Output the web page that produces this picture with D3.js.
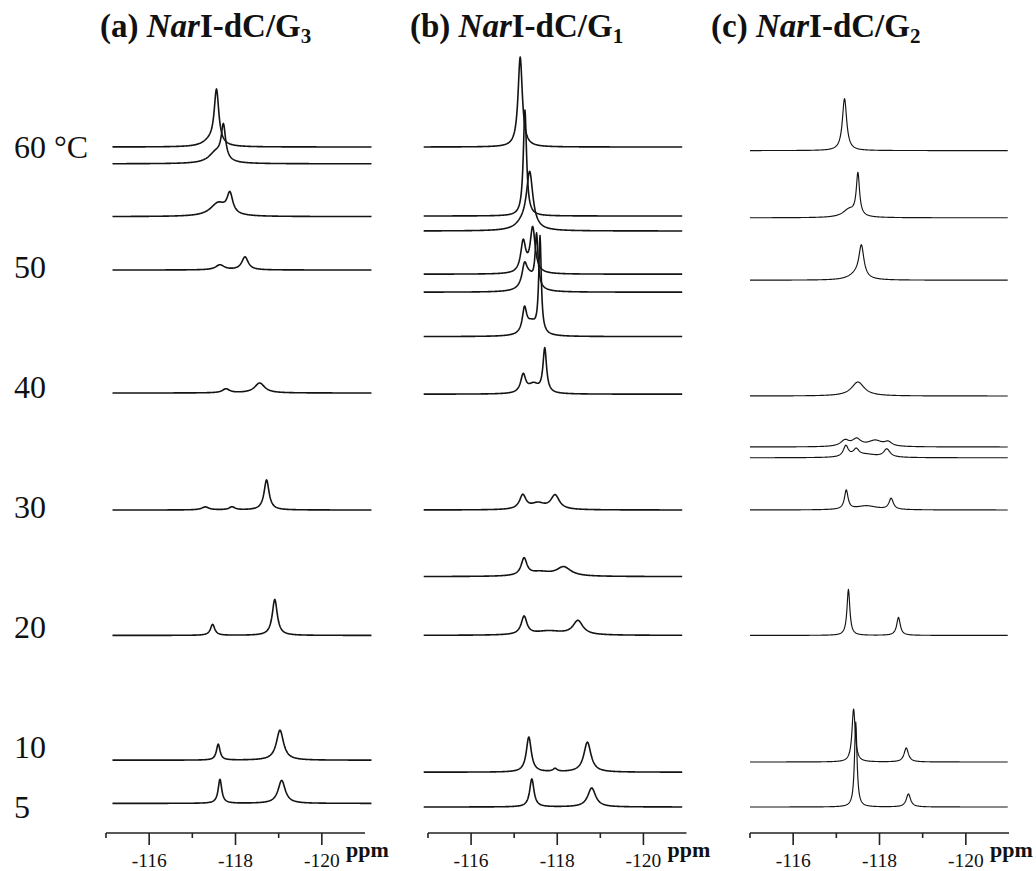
<!DOCTYPE html>
<html>
<head>
<meta charset="utf-8">
<script src="https://cdn.jsdelivr.net/npm/d3@7"></script>
<style>
  html, body { margin: 0; padding: 0; background: #fff; }
  svg { display: block; }
  text { font-family: "Liberation Serif", "Times New Roman", serif; fill: #111; }
</style>
</head>
<body>
<svg id="chart" width="1036" height="871"></svg>
<script>
// ---- data --------------------------------------------------------------
const panelLetters = ["(a)", "(b)", "(c)"];
const panelStrands = ["G", "G", "G"];
const panelSubscripts = ["3", "1", "2"];

const tempLabels = [60, 50, 40, 30, 20, 10, 5];
const majorTicks = [-116, -118, -120];
const minorTicks = [-115, -117, -119];

// recording temperature (°C) of each stacked spectrum, top to bottom
const tempsA = [60, 58.6, 54.2, 49.75, 39.5, 29.75, 19.3, 8.9, 5.3];
const tempsB = [60, 54.25, 53.0, 49.4, 47.9, 44.2, 39.4, 29.75, 24.2, 19.3, 7.9, 5.0];
const tempsC = [59.7, 54.1, 48.9, 39.25, 35.0, 34.1, 29.75, 19.3, 8.75, 5.0];

// peaks per spectrum: [shift (ppm), height, half width at half height (ppm)]
const peaksA = [
  [[-117.56, 55, 0.065], [-117.4, 5, 0.2]],
  [[-117.72, 34, 0.06], [-117.55, 11, 0.2]],
  [[-117.87, 20, 0.08], [-117.6, 13, 0.22]],
  [[-117.64, 5, 0.12], [-118.22, 13, 0.09]],
  [[-117.78, 4, 0.1], [-118.56, 10, 0.14]],
  [[-117.3, 3, 0.1], [-117.92, 3, 0.08], [-118.72, 30, 0.07]],
  [[-117.47, 11, 0.06], [-118.91, 36, 0.07]],
  [[-117.6, 16, 0.05], [-119.03, 30, 0.1]],
  [[-117.64, 24, 0.05], [-119.07, 23, 0.1]]
];
const peaksB = [
  [[-117.14, 90, 0.06]],
  [[-117.25, 106, 0.045]],
  [[-117.36, 56, 0.09], [-117.2, 6, 0.2]],
  [[-117.21, 31, 0.07], [-117.43, 45, 0.07]],
  [[-117.24, 20, 0.07], [-117.52, 52, 0.04], [-117.35, 14, 0.15]],
  [[-117.24, 24, 0.06], [-117.6, 96, 0.035], [-117.4, 12, 0.15]],
  [[-117.21, 18, 0.07], [-117.71, 44, 0.05], [-117.45, 9, 0.15]],
  [[-117.2, 14, 0.09], [-117.95, 14, 0.12], [-117.55, 6, 0.2]],
  [[-117.23, 17, 0.08], [-118.15, 9, 0.2], [-117.6, 4, 0.3]],
  [[-117.23, 18, 0.08], [-118.48, 14, 0.14], [-117.8, 4, 0.4]],
  [[-117.34, 35, 0.07], [-118.7, 30, 0.1], [-117.95, 3, 0.06]],
  [[-117.41, 28, 0.06], [-118.8, 19, 0.11]]
];
const peaksC = [
  [[-117.19, 52, 0.06]],
  [[-117.5, 42, 0.045], [-117.3, 8, 0.18]],
  [[-117.58, 32, 0.07], [-117.45, 5, 0.2]],
  [[-117.5, 14, 0.18]],
  [[-117.2, 6, 0.12], [-117.47, 7, 0.12], [-117.9, 6, 0.2], [-118.2, 4, 0.1]],
  [[-117.22, 11, 0.07], [-117.46, 7, 0.08], [-118.17, 8, 0.09], [-117.7, 3, 0.3]],
  [[-117.23, 19, 0.05], [-118.27, 11, 0.06], [-117.7, 4, 0.3]],
  [[-117.28, 46, 0.04], [-118.44, 18, 0.05]],
  [[-117.4, 53, 0.045], [-118.62, 14, 0.06]],
  [[-117.45, 85, 0.035], [-118.67, 13, 0.06]]
];

// recorded spectral window of each panel (ppm)
const spanA = [-115.15, -121.15];
const spanB = [-114.9, -120.9];
const spanC = [-115.0, -120.97];

// ---- layout ------------------------------------------------------------
const svg = d3.select("#chart");
const axisY = 833;

const panels = [
  { temps: tempsA, peaks: peaksA, span: spanA, range: [106, 365], titleX: 100, lw: 1.6 },
  { temps: tempsB, peaks: peaksB, span: spanB, range: [428, 686.5], titleX: 410, lw: 1.6 },
  { temps: tempsC, peaks: peaksC, span: spanC, range: [750, 1009], titleX: 711, lw: 1.15 }
];

// vertical stacking: temperature -> baseline position
const tScale = d3.scaleLinear().domain([5, 60]).range([807, 147]);
// signal intensity -> pixel height
const aScale = d3.scaleLinear().domain([0, 100]).range([0, 100]);

// temperature labels on the left
svg.append("g").selectAll("text")
  .data(tempLabels)
  .join("text")
  .attr("x", 14)
  .attr("y", d => tScale(d) + 11)
  .attr("font-size", 32)
  .text(d => d === 60 ? "60 °C" : String(d));

function lorentz(ppm, peaks) {
  let s = 0;
  for (const [c, h, w] of peaks) {
    const dx = ppm - c;
    s += h * (w * w) / (dx * dx + w * w);
  }
  return s;
}

panels.forEach((p, i) => {
  const x = d3.scaleLinear().domain([-115, -121]).range(p.range);
  const g = svg.append("g");

  // title: (a) NarI-dC/G3
  const title = g.append("text")
    .attr("x", p.titleX)
    .attr("y", 37)
    .attr("font-size", 33)
    .attr("font-weight", "bold");
  title.append("tspan").text(panelLetters[i] + " ");
  title.append("tspan").attr("font-style", "italic").text("Nar");
  title.append("tspan").text("I-dC/" + panelStrands[i]);
  title.append("tspan").attr("font-size", 21).attr("dy", 6).text(panelSubscripts[i]);

  // spectra
  const grid = d3.range(p.span[0], p.span[1] - 0.0001, -0.01);
  const line = d3.line().x(d => x(d[0])).y(d => d[1]);
  p.temps.forEach((t, k) => {
    const pts = grid.map(v => [v, tScale(t) - aScale(lorentz(v, p.peaks[k]))]);
    g.append("path")
      .attr("d", line(pts))
      .attr("fill", "none")
      .attr("stroke", "#141414")
      .attr("stroke-width", p.lw)
      .attr("stroke-linejoin", "round");
  });

  // ppm axis
  const ax = g.append("g");
  ax.append("line")
    .attr("x1", x(-115)).attr("x2", x(-121))
    .attr("y1", axisY).attr("y2", axisY)
    .attr("stroke", "#222").attr("stroke-width", 1.6);
  ax.selectAll("line.major").data(majorTicks).join("line")
    .attr("class", "major")
    .attr("x1", d => x(d)).attr("x2", d => x(d))
    .attr("y1", axisY).attr("y2", axisY + 12)
    .attr("stroke", "#222").attr("stroke-width", 1.6);
  ax.selectAll("line.minor").data(minorTicks).join("line")
    .attr("class", "minor")
    .attr("x1", d => x(d)).attr("x2", d => x(d))
    .attr("y1", axisY).attr("y2", axisY + 5)
    .attr("stroke", "#222").attr("stroke-width", 1.6);
  ax.selectAll("text.tick").data(majorTicks).join("text")
    .attr("class", "tick")
    .attr("x", d => x(d))
    .attr("y", 867)
    .attr("text-anchor", "middle")
    .attr("font-size", 19.5)
    .text(d => String(d));
  ax.append("text")
    .attr("x", x(-121) - 19)
    .attr("y", 857)
    .attr("font-size", 22)
    .attr("font-weight", "bold")
    .text("ppm");
});
</script>
</body>
</html>
